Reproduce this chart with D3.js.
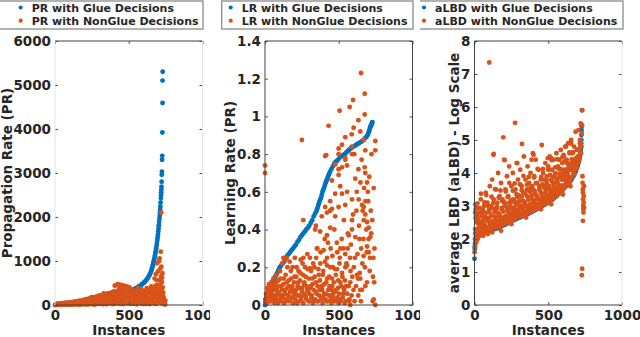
<!DOCTYPE html>
<html><head><meta charset="utf-8">
<script src="https://cdn.jsdelivr.net/npm/d3@7"></script>
<style>
body{margin:0;background:#fff}
svg{display:block}
text{font-family:"DejaVu Sans",sans-serif;font-weight:bold;fill:#262626}
</style>
</head><body>
<svg id="c" width="640" height="337"></svg>
<script>
const xTicks=[0,500,1000];
const prTicks=[0,1000,2000,3000,4000,5000,6000];
const lrTicks=[0,0.2,0.4,0.6,0.8,1,1.2,1.4];
const lbdTicks=[0,1,2,3,4,5,6,7,8];
const legendLabels=[["PR with Glue Decisions","PR with NonGlue Decisions"],["LR with Glue Decisions","LR with NonGlue Decisions"],["aLBD with Glue Decisions","aLBD with NonGlue Decisions"]];
const yTitles=["Propagation Rate (PR)","Learning Rate (PR)","average LBD (aLBD) - Log Scale"];
const xTitle="Instances";

// [instance, value]
const prGlue=[[0,0],[15,5],[30,10],[50,15],[70,22],[90,28],[110,35],[130,42],[150,50],[170,58],[190,68],[210,78],[230,90],[250,102],[270,115],[290,130],[310,145],[330,160],[350,175],[370,190],[390,208],[410,225],[430,242],[450,260],[470,280],[490,300],[500,312],[510,325],[520,338],[530,350],[540,365],[550,380],[558,395],[565,410],[572,428],[580,445],[588,465],[595,485],[602,505],[610,530],[616,555],[622,580],[628,610],[634,640],[640,675],[645,710],[650,750],[654,790],[658,835],[662,880],[665,925],[668,970],[671,1015],[674,1060],[677,1115],[680,1170],[683,1230],[686,1290],[689,1350],[691,1410],[694,1480],[696,1540],[698,1600],[700,1670],[702,1740],[704,1810],[706,1885],[708,1960],[710,2030],[711,2100],[713,2170],[714,2240],[716,2330],[718,2430],[719,2500],[720,2560],[721,2620],[722,2690],[723,2800],[724,2960],[725,3030],[726,3300],[727,3390],[728,3920],[729,4590],[729,5100],[730,5300]];
const prNonGlue=[[5,5],[12,12],[20,3],[28,18],[35,8],[42,22],[50,4],[58,15],[65,28],[72,6],[80,35],[88,12],[95,20],[102,42],[110,8],[118,30],[125,50],[132,15],[140,60],[148,25],[155,5],[162,45],[170,70],[178,18],[185,38],[192,85],[200,10],[208,55],[215,30],[222,100],[230,65],[238,20],[245,120],[252,48],[260,90],[268,8],[275,140],[282,60],[290,110],[298,30],[305,170],[312,80],[320,130],[328,15],[335,200],[342,95],[350,150],[358,45],[365,250],[372,110],[380,180],[388,20],[395,300],[400,70],[405,440],[410,220],[418,130],[425,470],[430,40],[438,260],[445,455],[450,100],[458,330],[465,440],[470,180],[478,60],[485,420],[490,280],[498,140],[505,400],[510,30],[518,350],[525,220],[532,90],[540,300],[548,160],[555,15],[562,380],[570,240],[578,110],[585,330],[592,50],[600,200],[608,300],[615,80],[622,380],[630,150],[638,20],[645,270],[652,420],[658,100],[664,350],[670,50],[675,600],[680,200],[684,700],[688,450],[692,950],[695,120],[698,760],[701,300],[704,560],[706,1000],[709,1060],[711,180],[713,820],[715,400],[717,1210],[719,650],[720,2100],[721,870],[723,40],[725,520],[727,300],[729,720],[731,100],[733,200],[735,60],[737,150],[740,30],[742,90],[745,10],
[15,30],[45,10],[75,40],[105,25],[135,35],[165,20],[195,50],[225,15],[255,75],[285,25],[315,55],[345,20],[375,60],[405,30],[435,110],[465,20],[495,50],[525,40],[555,120],[585,35],[615,20],[645,80],[675,30],[705,60],[250,180],[300,210],[330,260],[360,190],[420,320],[440,380],[460,250],[480,330],[500,190],[520,260],[540,120],[560,70],[580,190],[600,90],[620,230],[640,60],[660,180],[690,240],[710,340],[730,400],[700,130],[712,250],[722,160],[726,620],[690,560],[680,430],[668,290],[655,150],
[415,450],[435,460],[455,445],[475,430],[495,410]];
const prDense=[[3,10],[9,20],[14,5],[19,25],[24,12],[30,30],[36,8],[41,35],[47,18],[53,40],[59,10],[64,45],[70,20],[76,50],[82,8],[87,55],[93,25],[99,60],[104,15],[110,65],[116,30],[121,70],[127,10],[133,75],[138,35],[144,80],[150,20],[155,85],[161,40],[167,95],[172,12],[178,100],[184,45],[189,110],[195,25],[201,120],[207,50],[212,130],[218,18],[224,140],[229,60],[235,150],[241,30],[246,160],[252,70],[258,170],[263,15],[269,180],[275,80],[280,190],[286,35],[292,200],[297,90],[303,210],[309,25],[314,220],[320,100],[326,230],[331,45],[337,240],[343,110],[348,250],[354,20],[360,260],[365,120],[371,270],[377,55],[382,280],[388,130],[394,290],[399,30],[405,300],[411,140],[416,310],[422,65],[428,320],[433,150],[439,330],[445,25],[450,340],[456,160],[462,350],[467,75],[473,360],[479,170],[484,370],[490,40],[496,380],[501,180],[507,300],[513,85],[518,250],[524,190],[530,320],[535,30],[541,200],[547,270],[552,95],[558,340],[564,210],[569,50],[575,290],[581,120],[586,360],[592,220],[598,20],[603,310],[609,130],[615,250],[620,60],[626,330],[632,140],[637,260],[643,25],[649,350],[654,160],[660,280],[666,70],[671,380],[677,170],[683,300],[688,30],[694,400],[700,190],[705,320],[710,80],[714,460],[718,250],[722,340],[726,90],[730,180],[734,280],[738,120],[742,50],[746,20],[748,100]];

const lrGlue=[[0,0],[2,0.01],[5,0.02],[7,0.03],[10,0.04],[15,0.05],[20,0.06],[25,0.07],[30,0.08],[35,0.09],[40,0.1],[45,0.11],[50,0.12],[55,0.128],[60,0.135],[65,0.143],[70,0.15],[75,0.158],[80,0.165],[85,0.173],[90,0.18],[95,0.19],[100,0.2],[110,0.21],[120,0.22],[130,0.23],[140,0.245],[150,0.26],[160,0.27],[170,0.28],[180,0.29],[190,0.3],[200,0.31],[210,0.32],[220,0.335],[230,0.345],[240,0.36],[250,0.37],[260,0.38],[270,0.39],[280,0.4],[290,0.41],[300,0.42],[310,0.435],[320,0.45],[330,0.47],[340,0.485],[350,0.5],[355,0.512],[360,0.525],[365,0.537],[370,0.55],[375,0.56],[380,0.57],[385,0.585],[390,0.6],[395,0.61],[400,0.62],[405,0.632],[410,0.645],[415,0.655],[420,0.665],[425,0.675],[430,0.685],[435,0.695],[440,0.705],[450,0.72],[460,0.735],[470,0.75],[480,0.76],[490,0.765],[500,0.775],[510,0.783],[520,0.79],[530,0.795],[540,0.8],[550,0.808],[560,0.815],[570,0.822],[580,0.83],[590,0.835],[600,0.84],[610,0.845],[620,0.85],[630,0.855],[640,0.86],[650,0.865],[660,0.87],[670,0.877],[680,0.885],[688,0.892],[695,0.9],[700,0.91],[705,0.92],[709,0.93],[712,0.94],[715,0.945],[718,0.95],[721,0.955],[724,0.96],[726,0.965],[728,0.97]];
const lrNonGlue=[[5,0.01],[10,0.04],[15,0.02],[20,0.07],[25,0.03],[30,0.05],[35,0.09],[40,0.02],[45,0.06],[50,0.1],[55,0.03],[60,0.08],[65,0.01],[70,0.05],[75,0.12],[80,0.03],[85,0.07],[90,0.02],[95,0.1],[100,0.05],[105,0.14],[110,0.02],[115,0.08],[120,0.04],[125,0.11],[130,0.01],[135,0.06],[140,0.16],[145,0.03],[150,0.09],[155,0.05],[160,0.13],[165,0.02],[170,0.07],[175,0.18],[180,0.04],[185,0.1],[190,0.01],[195,0.06],[200,0.15],[205,0.03],[210,0.08],[215,0.2],[220,0.05],[225,0.12],[230,0.02],[235,0.09],[240,0.17],[245,0.04],[250,0.07],[255,0.22],[260,0.01],[265,0.11],[270,0.05],[275,0.15],[280,0.03],[285,0.08],[290,0.19],[295,0.02],[300,0.06],[305,0.25],[310,0.1],[315,0.04],[320,0.14],[325,0.01],[330,0.08],[335,0.2],[340,0.03],[345,0.12],[350,0.06],[355,0.3],[360,0.02],[365,0.16],[370,0.08],[375,0.22],[380,0.04],[385,0.1],[390,0.01],[395,0.18],[400,0.06],[405,0.35],[410,0.03],[415,0.12],[420,0.25],[425,0.02],[430,0.08],[435,0.15],[440,0.05],[445,0.3],[450,0.01],[455,0.1],[460,0.2],[465,0.04],[470,0.4],[475,0.07],[480,0.16],[485,0.02],[490,0.28],[495,0.09],[500,0.01],[505,0.22],[510,0.12],[515,0.03],[520,0.35],[525,0.15],[530,0.06],[535,0.45],[540,0.01],[545,0.2],[550,0.1],[560,0.3],[570,0.02],[580,0.18],[590,0.4],[600,0.08],[610,0.25],[620,0.5],[630,0.14],[640,0.35],[650,0.02],[660,0.22],[670,0.45],[680,0.1],[690,0.28],[700,0.55],[710,0.18],[720,0.38],[730,0.02],[735,0.25],[740,0.12],
[0,0.74],[0,0.7],[250,0.875],[651,1.23],[676,1.12],[597,1.087],[574,1.05],[506,1.03],[676,1.01],[431,0.95],[633,0.98],[544,0.89],[601,0.94],[646,0.92],[588,0.905],[499,0.83],[522,0.85],[544,0.77],[588,0.84],[669,0.875],[748,0.87],[748,0.82],[415,0.795],[605,0.8],[655,0.77],[676,0.73],[633,0.72],[556,0.74],[499,0.72],
[408,0.79],[499,0.8],[544,0.78],[590,0.8],[680,0.82],[476,0.745],[522,0.73],[499,0.69],[454,0.66],[510,0.63],[612,0.67],[680,0.7],[692,0.65],[476,0.59],[522,0.59],[590,0.56],[556,0.6],[635,0.56],[658,0.53],[442,0.55],[408,0.52],[454,0.51],[499,0.52],[544,0.53],[420,0.49],[442,0.5],[385,0.47],[476,0.47],[680,0.48],[669,0.52],[590,0.45],[692,0.44],[345,0.42],[260,0.45],
[125,0.25],[147,0.25],[260,0.25],[340,0.4],[374,0.39],[442,0.41],[420,0.37],[567,0.37],[703,0.41],[714,0.36],[352,0.3],[397,0.29],[510,0.3],[544,0.27],[692,0.31],[703,0.28],[669,0.26],[306,0.195],[420,0.21],[488,0.19],[556,0.21],[624,0.16],[646,0.14],[454,0.14],[578,0.12],[533,0.09],[646,0.08],[737,0.03],[748,0.0],[578,0.0]];
const lrDense=[[2,0.03],[7,0.06],[12,0.01],[17,0.09],[22,0.04],[27,0.11],[32,0.02],[37,0.07],[42,0.12],[47,0.04],[52,0.08],[57,0.14],[62,0.02],[67,0.1],[72,0.05],[77,0.16],[82,0.08],[87,0.01],[92,0.13],[97,0.06],[102,0.18],[107,0.03],[112,0.1],[117,0.22],[122,0.05],[127,0.14],[132,0.24],[137,0.08],[142,0.02],[147,0.12],[152,0.2],[157,0.05],[162,0.1],[167,0.23],[172,0.03],[177,0.14],[182,0.08],[187,0.2],[192,0.04],[197,0.12],[202,0.25],[207,0.06],[212,0.15],[217,0.01],[222,0.1],[227,0.18],[232,0.05],[237,0.13],[242,0.24],[247,0.02],[252,0.09],[257,0.16],[262,0.06],[267,0.12],[272,0.2],[277,0.04],[282,0.1],[287,0.27],[292,0.07],[297,0.14],[302,0.02],[307,0.09],[312,0.18],[317,0.05],[322,0.11],[327,0.22],[332,0.03],[337,0.15],[342,0.07],[347,0.25],[352,0.02],[357,0.1],[362,0.19],[367,0.05],[372,0.13],[377,0.28],[382,0.03],[387,0.08],[392,0.16],[397,0.04],[402,0.11],[407,0.23],[412,0.06],[417,0.02],[422,0.14],[427,0.33],[432,0.05],[437,0.1],[442,0.2],[447,0.03],[452,0.08],[457,0.26],[462,0.06],[467,0.12],[472,0.02],[477,0.19],[482,0.08],[487,0.33],[492,0.04],[497,0.13],[502,0.06],[507,0.25],[512,0.02],[517,0.1],[522,0.17],[527,0.04],[532,0.3],[537,0.08],[542,0.13],[547,0.02],[552,0.22],[557,0.06],[562,0.38],[567,0.1],[572,0.03],[577,0.25],[582,0.32],[587,0.05],[592,0.15],[597,0.48],[602,0.2],[607,0.02],[612,0.36],[617,0.1],[622,0.6],[627,0.27],[632,0.05],[637,0.42],[642,0.17],[647,0.65],[652,0.3],[657,0.08],[662,0.5],[667,0.35],[672,0.62],[677,0.2],[682,0.55],[687,0.4],[692,0.12],[697,0.6],[702,0.35],[707,0.68],[712,0.25],[717,0.5],[722,0.8],[727,0.45],[732,0.15],[737,0.62],[742,0.3]];

const lbdGlue=[[0,1.4],[2,1.7],[3,1.78],[4,1.85],[6,1.9],[8,1.95],[10,1.98],[12,2.0],[16,2.04],[20,2.08],[25,2.1],[30,2.13],[35,2.15],[40,2.16],[50,2.18],[60,2.2],[70,2.21],[80,2.23],[90,2.25],[100,2.26],[112,2.27],[125,2.29],[137,2.3],[150,2.32],[162,2.34],[175,2.37],[187,2.4],[200,2.42],[215,2.45],[230,2.49],[245,2.52],[260,2.56],[270,2.58],[280,2.6],[290,2.62],[300,2.64],[310,2.66],[320,2.68],[330,2.7],[340,2.72],[350,2.74],[360,2.76],[370,2.78],[380,2.8],[390,2.83],[400,2.85],[410,2.88],[420,2.9],[430,2.93],[440,2.95],[450,2.98],[460,3.0],[470,3.03],[480,3.05],[490,3.08],[500,3.1],[510,3.13],[520,3.17],[530,3.2],[540,3.24],[550,3.28],[560,3.32],[570,3.36],[580,3.4],[590,3.45],[600,3.5],[610,3.55],[620,3.6],[630,3.64],[640,3.69],[650,3.75],[660,3.82],[670,3.9],[680,3.98],[688,4.06],[695,4.15],[700,4.22],[705,4.3],[709,4.38],[712,4.45],[715,4.52],[718,4.6],[720,4.68],[721,4.75],[722,4.82],[723,4.9],[724,5.0],[725,5.15],[726,5.3],[727,5.42],[729,5.9]];
const lbdNonGlue=[[1,1.6],[2,1.75],[3,2.0],[4,2.3],[5,2.8],[6,3.05],[8,2.9],[10,2.2],[12,1.9],[14,2.5],[16,2.1],[18,2.7],[20,2.3],[22,2.0],[25,2.6],[28,2.2],[30,2.4],[33,2.8],[36,2.1],[40,2.5],[43,3.2],[46,2.3],[50,2.7],[53,2.2],[56,2.9],[60,2.4],[64,3.0],[68,2.2],[72,2.6],[76,3.4],[80,2.35],[84,2.8],[88,3.1],[92,2.3],[96,2.6],[100,7.35],[100,2.9],[104,3.6],[108,2.4],[112,3.0],[116,2.7],[120,3.8],[124,2.45],[128,4.55],[130,3.2],[135,2.5],[140,2.9],[145,3.5],[150,2.55],[155,3.1],[160,4.0],[165,2.7],[170,3.3],[175,2.6],[180,3.7],[185,2.9],[190,3.2],[195,5.08],[198,2.65],[201,4.4],[205,3.0],[210,3.5],[215,2.7],[220,3.9],[225,2.9],[230,3.3],[235,4.2],[240,2.75],[245,3.1],[250,3.6],[255,2.8],[260,4.0],[265,3.2],[270,2.9],[275,5.52],[278,3.5],[282,2.85],[286,4.3],[290,3.1],[295,3.8],[300,2.9],[305,3.3],[310,4.1],[315,3.0],[320,3.6],[322,4.88],[326,2.95],[330,3.4],[335,4.5],[340,3.1],[345,3.8],[350,3.0],[355,3.5],[360,4.2],[365,3.2],[370,3.7],[375,3.05],[380,4.0],[385,3.3],[390,3.6],[396,4.6],[400,3.1],[405,3.9],[410,3.4],[415,4.4],[420,3.2],[425,3.7],[430,3.05],[435,4.1],[440,3.5],[445,3.2],[450,3.8],[456,4.85],[460,3.3],[465,4.0],[470,3.6],[475,3.2],[480,4.3],[485,3.5],[490,3.9],[495,3.3],[500,4.2],[505,3.6],[510,4.5],[515,3.4],[520,3.8],[525,4.1],[530,3.5],[535,4.4],[540,3.7],[545,4.0],[550,3.5],[555,4.6],[560,3.8],[565,4.2],[570,3.6],[575,4.4],[580,3.9],[585,4.7],[590,3.8],[595,4.3],[600,4.0],[605,4.5],[610,3.9],[615,4.8],[620,4.1],[625,4.4],[630,4.0],[635,4.9],[640,4.2],[645,4.6],[650,4.1],[655,5.0],[660,4.3],[665,4.6],[670,4.2],[675,4.8],[680,4.3],[685,5.25],[690,4.45],[695,4.7],[700,4.5],[705,5.3],[710,4.7],[715,5.0],[718,4.9],[720,5.5],[722,4.6],[725,4.8],[727,5.2],[729,5.45],[730,5.9],
[60,2.1],[90,2.15],[120,2.2],[180,2.25],[250,2.45],[350,2.65],[450,2.9],[520,3.05],[600,3.35],[650,3.6],
[130,4.58],[204,4.39],[290,4.3],[387,4.4],[400,4.55],[497,4.45],[520,4.45],[604,4.55],
[732,3.9],[733,3.7],[734,3.5],[735,3.4],[736,3.2],[737,3.0],[738,2.9],[739,2.8],[740,3.1],[741,3.3],[742,3.6],[743,2.95],[730,1.1],[728,0.9],[735,2.55]];
const lbdDense=[[5,2.17],[10,2.08],[15,2.59],[20,2.28],[25,2.52],[30,2.18],[35,2.8],[40,2.41],[45,2.32],[50,2.68],[55,2.54],[60,2.28],[65,2.8],[70,2.43],[75,2.67],[80,2.35],[85,2.62],[90,2.55],[95,2.35],[100,2.81],[105,2.47],[110,2.69],[115,2.33],[120,2.93],[125,2.54],[130,2.45],[135,2.8],[140,2.66],[145,2.39],[150,2.92],[155,2.55],[160,2.79],[165,2.47],[170,2.74],[175,2.67],[180,2.48],[185,2.94],[190,2.6],[195,2.83],[200,2.47],[205,3.08],[210,2.69],[215,2.6],[220,2.96],[225,2.83],[230,2.57],[235,3.1],[240,2.73],[245,2.97],[250,2.65],[255,2.93],[260,2.86],[265,2.67],[270,3.13],[275,2.79],[280,3.02],[285,2.66],[290,3.27],[295,2.88],[300,2.79],[305,3.15],[310,3.01],[315,2.75],[320,3.28],[325,2.91],[330,3.15],[335,2.83],[340,3.1],[345,3.03],[350,2.84],[355,3.3],[360,2.96],[365,3.19],[370,2.83],[375,3.44],[380,3.05],[385,2.97],[390,3.33],[395,3.19],[400,2.93],[405,3.47],[410,3.1],[415,3.34],[420,3.02],[425,3.3],[430,3.23],[435,3.04],[440,3.5],[445,3.17],[450,3.4],[455,3.04],[460,3.65],[465,3.27],[470,3.18],[475,3.54],[480,3.4],[485,3.15],[490,3.68],[495,3.31],[500,3.55],[505,3.24],[510,3.51],[515,3.45],[520,3.27],[525,3.74],[530,3.4],[535,3.64],[540,3.29],[545,3.91],[550,3.53],[555,3.45],[560,3.82],[565,3.69],[570,3.44],[575,3.98],[580,3.62],[585,3.88],[590,3.57],[595,3.86],[600,3.8],[605,3.63],[610,4.1],[615,3.78],[620,4.02],[625,3.67],[630,4.29],[635,3.92],[640,3.84],[645,4.22],[650,4.1],[655,3.86],[660,4.42],[665,4.08],[670,4.35],[675,4.06],[680,4.36],[685,4.33],[690,4.18],[695,4.7],[700,4.42],[705,4.72],[710,4.47],[715,4.89],[720,4.83],
[8,2.64],[20,3.08],[32,2.94],[44,3.37],[56,2.84],[68,3.11],[80,3.33],[92,3.0],[104,2.97],[116,3.28],[128,3.09],[140,3.51],[152,2.98],[164,3.25],[176,3.47],[188,3.15],[200,3.12],[212,3.44],[224,3.27],[236,3.7],[248,3.18],[260,3.46],[272,3.68],[284,3.36],[296,3.33],[308,3.66],[320,3.48],[332,3.91],[344,3.38],[356,3.65],[368,3.88],[380,3.55],[392,3.53],[404,3.86],[416,3.69],[428,4.12],[440,3.6],[452,3.88],[464,4.12],[476,3.79],[488,3.78],[500,4.1],[512,3.94],[524,4.39],[536,3.88],[548,4.17],[560,4.42],[572,4.12],[584,4.12],[596,4.48],[608,4.35],[620,4.8],[632,4.3],[644,4.62],[656,4.89],[668,4.63]];
const lbdOnCurve=[[22,2.12],[30,2.2],[38,2.17],[46,2.25],[54,2.2],[62,2.27],[70,2.23],[78,2.3],[86,2.26],[94,2.34],[102,2.29],[110,2.36],[118,2.3],[126,2.38],[134,2.33],[142,2.4],[150,2.35],[158,2.44],[166,2.38],[174,2.47],[182,2.42],[190,2.5],[198,2.45],[206,2.53],[214,2.48],[222,2.57],[230,2.52],[238,2.6],[246,2.55],[254,2.64],[262,2.58],[270,2.66],[278,2.62],[286,2.7],[294,2.65],[302,2.73],[310,2.68],[318,2.77],[326,2.71],[334,2.8],[342,2.75],[350,2.83],[358,2.78],[366,2.87],[374,2.82],[382,2.9],[390,2.85],[398,2.94],[406,2.88],[414,2.98],[422,2.92],[430,3.02],[438,2.97],[446,3.06],[454,3.0],[462,3.1],[470,3.04],[478,3.14],[486,3.08],[494,3.18],[502,3.12],[510,3.22],[518,3.18],[526,3.28],[534,3.23],[542,3.34],[550,3.3],[558,3.4],[566,3.35],[574,3.46],[582,3.42],[590,3.53],[598,3.5],[606,3.6],[614,3.58],[622,3.68],[630,3.66],[638,3.77],[646,3.74],[654,3.86],[662,3.85],[670,3.97],[678,3.98],[686,4.12],[694,4.15],[702,4.32],[710,4.42]];

const BLUE="#0072BD", ORANGE="#D95319";
const R=2.45;
const svg=d3.select("#c");
const defs=svg.append("defs");

const panels=[
  {clip:[0,210],x:[55,202.5],yMax:6000,yTicks:prTicks,glue:prGlue,non:prNonGlue.concat(prDense),legend:[-5,203],mx:20.7,tx:31.7,yLabX:12,sideCol:"#e4e4e4",rightCol:"#e4e4e4"},
  {clip:[210,420],x:[265,412.5],yMax:1.4,yTicks:lrTicks,glue:lrGlue,non:lrNonGlue.concat(lrDense),legend:[221.7,413],mx:230.7,tx:241.7,yLabX:235,sideCol:"#404040",rightCol:"#404040"},
  {clip:[420,640],x:[474.5,622],yMax:8,yTicks:lbdTicks,glue:lbdGlue,non:lbdNonGlue.concat(lbdDense,lbdOnCurve),legend:[410,623],mx:424,tx:435,yLabX:459,sideCol:"#404040",rightCol:"#e4e4e4"}
];
const Y0=305,Y1=41;

panels.forEach((p,i)=>{
  defs.append("clipPath").attr("id","cp"+i).append("rect")
    .attr("x",p.clip[0]).attr("y",0).attr("width",p.clip[1]-p.clip[0]).attr("height",337);
  const g=svg.append("g").attr("clip-path","url(#cp"+i+")");
  const x=d3.scaleLinear().domain([0,1000]).range(p.x);
  const y=d3.scaleLinear().domain([0,p.yMax]).range([Y0,Y1]);

  g.append("g").selectAll("circle").data(p.glue).join("circle")
    .attr("cx",d=>x(d[0])).attr("cy",d=>y(d[1])).attr("r",R).attr("fill",BLUE);
  g.append("g").selectAll("circle").data(p.non).join("circle")
    .attr("cx",d=>x(d[0])).attr("cy",d=>y(d[1])).attr("r",R).attr("fill",ORANGE);

  const fs="13.5px";
  const ax=g.append("g").attr("transform",`translate(0,${Y0})`)
    .call(d3.axisBottom(x).tickValues(xTicks).tickSize(-3).tickSizeOuter(0).tickPadding(5.5).tickFormat(d=>String(d)));
  const ay=g.append("g").attr("transform",`translate(${p.x[0]},0)`)
    .call(d3.axisLeft(y).tickValues(p.yTicks).tickSize(-3).tickSizeOuter(0).tickPadding(4).tickFormat(d=>String(d)));
  const ar=g.append("g").attr("transform",`translate(${p.x[1]},0)`)
    .call(d3.axisRight(y).tickValues(p.yTicks).tickSize(-3).tickSizeOuter(0).tickFormat(""));
  const at=g.append("g").attr("transform",`translate(0,${Y1})`)
    .call(d3.axisTop(x).tickValues(xTicks).tickSize(-3).tickSizeOuter(0).tickFormat(""));
  [ax,ay,ar,at].forEach(a=>{
    a.select(".domain").remove();
    a.selectAll("line").attr("stroke","#555");
    a.selectAll("text").attr("fill","#262626").style("font-family",'"DejaVu Sans",sans-serif').style("font-weight","bold").style("font-size",fs);
  });
  g.append("line").attr("x1",p.x[0]).attr("x2",p.x[1]).attr("y1",Y0).attr("y2",Y0).attr("stroke","#404040").attr("stroke-width",1);
  g.append("line").attr("x1",p.x[0]).attr("x2",p.x[1]).attr("y1",Y1).attr("y2",Y1).attr("stroke","#404040").attr("stroke-width",1);
  g.append("line").attr("x1",p.x[0]).attr("x2",p.x[0]).attr("y1",Y1).attr("y2",Y0).attr("stroke",p.sideCol).attr("stroke-width",1);
  g.append("line").attr("x1",p.x[1]).attr("x2",p.x[1]).attr("y1",Y1).attr("y2",Y0).attr("stroke",p.rightCol).attr("stroke-width",1);

  g.append("text").attr("x",(p.x[0]+p.x[1])/2).attr("y",334.5).attr("text-anchor","middle")
    .style("font-size","13.5px").text(xTitle);
  g.append("text").attr("transform",`translate(${p.yLabX},${(Y0+Y1)/2}) rotate(-90)`).attr("text-anchor","middle")
    .style("font-size","13.5px").text(yTitles[i]);

  const lg=g.append("g");
  lg.append("rect").attr("x",p.legend[0]).attr("y",1).attr("width",p.legend[1]-p.legend[0]).attr("height",28)
    .attr("fill","#fff").attr("stroke","#8a8a8a").attr("stroke-width",1.3);
  [BLUE,ORANGE].forEach((c,j)=>{
    lg.append("circle").attr("cx",p.mx).attr("cy",7.5+j*13.2).attr("r",2.1).attr("fill",c);
    lg.append("text").attr("x",p.tx).attr("y",12+j*13).style("font-size","11px").text(legendLabels[i][j]);
  });
});
</script>
</body></html>
